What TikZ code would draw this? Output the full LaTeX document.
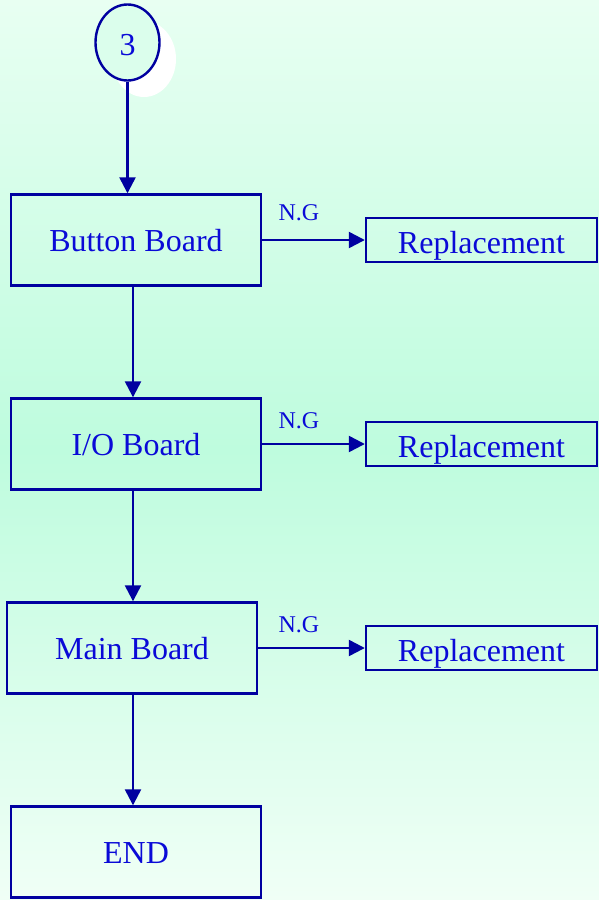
\documentclass[tikz,border=0pt]{standalone}
\usepackage{fontspec}
\setmainfont{Liberation Serif}
\usetikzlibrary{shapes.geometric, arrows.meta}

\definecolor{boxline}{RGB}{0,0,160}
\definecolor{boxtext}{RGB}{10,10,215}
\definecolor{bgtop}{RGB}{232,255,242}
\definecolor{bgmid}{RGB}{190,252,222}
\definecolor{bgbot}{RGB}{240,255,246}

\begin{document}
\begin{tikzpicture}[
		x=1pt, y=-1pt,
		line width=2.4pt,
		board/.style={rectangle, draw=boxline, text=boxtext, inner sep=0pt,
			minimum width=250pt, minimum height=91pt, text height=23pt, text depth=0pt,
			font=\fontsize{32}{36}\selectfont},
		repl/.style={rectangle, draw=boxline, text=boxtext, inner sep=0pt,
			minimum width=231pt, minimum height=44pt, text height=26pt, text depth=0pt,
			font=\fontsize{32}{36}\selectfont},
		circ/.style={ellipse, minimum width=64pt, minimum height=76pt, inner sep=0pt,
			text height=26pt, text depth=0pt, font=\fontsize{32}{36}\selectfont},
		nglabel/.style={text=boxtext, inner sep=0pt, font=\fontsize{24}{26}\selectfont},
		flow/.style={draw=boxline, -{Triangle[width=16pt, length=16pt]}}
	]
  \shade [top color=bgtop, bottom color=bgbot, middle color=bgmid] (0,0) rectangle (599,900);
  \useasboundingbox (0,0) rectangle (599,900);
  \node (c3_shadow) [circ, fill=white, text=white] at (144, 59) {3};
  \node (c3) [circ, draw=boxline, fill=bgtop!70!bgmid, text=boxtext] at (127.5, 42.5) {3};
  \node (btn) [board] at (136, 240) {Button Board};
  \node (io) [board] at (136, 444) {I/O Board};
  \node (main) [board] at (132, 648) {Main Board};
  \node (end) [board] at (136, 852) {END};
  \node (rep_btn) [repl] at (481.5, 240) {Replacement};
  \node (rep_io) [repl] at (481.5, 444) {Replacement};
  \node (rep_main) [repl] at (481.5, 648) {Replacement};
  \node (ng_btn) [nglabel] at (299, 213) {N.G};
  \node (ng_io) [nglabel] at (299, 421) {N.G};
  \node (ng_main) [nglabel] at (299, 625) {N.G};
  \draw [flow] (c3.south) -- (c3.south |- btn.north);
  \draw [flow] ([xshift=-3pt]btn.south) -- ([xshift=-3pt]btn.south |- io.north);
  \draw [flow] ([xshift=-3pt]io.south) -- ([xshift=-3pt]io.south |- main.north);
  \draw [flow] ([xshift=1pt]main.south) -- ([xshift=1pt]main.south |- end.north);
  \draw [flow] (btn.east) -- (rep_btn.west);
  \draw [flow] (io.east) -- (rep_io.west);
  \draw [flow] (main.east) -- (rep_main.west);
\end{tikzpicture}
\end{document}
